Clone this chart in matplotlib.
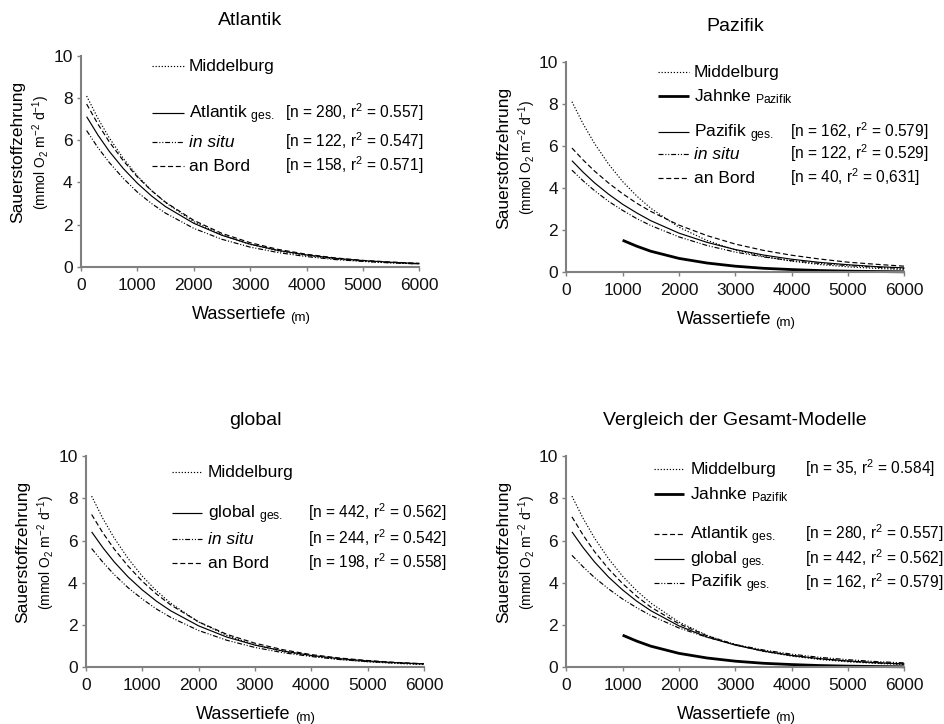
import matplotlib
matplotlib.use("Agg")
import matplotlib.pyplot as plt

plt.rcParams.update({
    "font.family": ["Liberation Sans", "DejaVu Sans"],
    "mathtext.fontset": "custom",
    "mathtext.rm": "Liberation Sans",
    "mathtext.it": "Liberation Sans:italic",
    "mathtext.bf": "Liberation Sans:bold",
    "lines.scale_dashes": False,
})

# Water depth (m) at which the model curves are sampled
depth = [100, 300, 500, 750, 1000, 1250, 1500, 2000, 2500, 3000, 3500, 4000, 4500, 5000, 5500, 6000]
depth_jahnke = [1000, 1250, 1500, 2000, 2500, 3000, 3500, 4000, 4500, 5000, 5500, 6000]

# Oxygen consumption (mmol O2 m-2 d-1)
middelburg = [8.10, 7.04, 6.12, 5.14, 4.31, 3.62, 3.04, 2.14, 1.51, 1.06, 0.75, 0.53, 0.37, 0.26, 0.185, 0.13]
jahnke_pazifik = [1.52, 1.24, 1.00, 0.66, 0.44, 0.29, 0.19, 0.13, 0.083, 0.055, 0.036, 0.024]

atlantik_ges = [7.12, 6.25, 5.48, 4.66, 3.96, 3.36, 2.85, 2.06, 1.49, 1.07, 0.77, 0.56, 0.40, 0.29, 0.21, 0.15]
atlantik_insitu = [6.46, 5.65, 4.95, 4.19, 3.54, 3.00, 2.54, 1.82, 1.30, 0.93, 0.67, 0.48, 0.34, 0.25, 0.18, 0.13]
atlantik_bord = [7.72, 6.77, 5.93, 5.03, 4.26, 3.61, 3.06, 2.20, 1.58, 1.14, 0.82, 0.59, 0.42, 0.30, 0.22, 0.16]

pazifik_ges = [5.30, 4.75, 4.25, 3.71, 3.23, 2.82, 2.45, 1.86, 1.42, 1.08, 0.82, 0.62, 0.47, 0.36, 0.27, 0.21]
pazifik_insitu = [4.85, 4.34, 3.88, 3.37, 2.94, 2.55, 2.22, 1.68, 1.27, 0.96, 0.73, 0.55, 0.42, 0.32, 0.24, 0.18]
pazifik_bord = [5.90, 5.33, 4.81, 4.24, 3.73, 3.28, 2.89, 2.24, 1.74, 1.34, 1.04, 0.81, 0.63, 0.48, 0.38, 0.29]

global_ges = [6.41, 5.66, 4.99, 4.27, 3.66, 3.13, 2.68, 1.96, 1.43, 1.05, 0.77, 0.56, 0.41, 0.30, 0.22, 0.16]
global_insitu = [5.62, 4.97, 4.39, 3.76, 3.23, 2.76, 2.37, 1.74, 1.28, 0.94, 0.69, 0.51, 0.37, 0.27, 0.20, 0.15]
global_bord = [7.23, 6.36, 5.60, 4.78, 4.07, 3.47, 2.96, 2.15, 1.56, 1.14, 0.83, 0.60, 0.44, 0.32, 0.23, 0.17]

x_ticks = [0, 1000, 2000, 3000, 4000, 5000, 6000]
y_ticks = [0, 2, 4, 6, 8, 10]

STYLES = {
    "dotted": dict(ls=(0, (0.9, 1.3)), lw=0.85),
    "solid": dict(ls="-", lw=0.85),
    "dashed": dict(ls=(0, (3.6, 2.0)), lw=0.85),
    "dashdotdot": dict(ls=(0, (3.6, 1.3, 0.8, 1.3, 0.8, 1.3)), lw=0.85),
    "thick": dict(ls="-", lw=2.0),
}

AXIS_GRAY = "#808080"
FS = 12.5
FS_STATS = 11.2

fig = plt.figure(figsize=(9.44, 7.24), dpi=100)


def panel(rect, title, series, legend, lx0, lx1, tx, sx):
    ax = fig.add_axes(rect)
    for xs, ys, st in series:
        ax.plot(xs, ys, color="k", clip_on=False, solid_capstyle="butt", **STYLES[st])

    for st, label, stats, italic, yf in legend:
        ax.plot([lx0, lx1], [yf, yf], transform=ax.transAxes, color="k",
                clip_on=False, solid_capstyle="butt", **STYLES[st])
        ax.annotate(label, xy=(tx, yf), xycoords="axes fraction",
                    xytext=(0, -3.6), textcoords="offset points",
                    ha="left", va="baseline", fontsize=FS,
                    style="italic" if italic else "normal")
        if stats:
            ax.annotate(stats, xy=(sx, yf), xycoords="axes fraction",
                        xytext=(0, -3.6), textcoords="offset points",
                        ha="left", va="baseline", fontsize=FS_STATS)

    ax.set_xlim(0, 6000)
    ax.set_ylim(0, 10)
    ax.set_xticks(x_ticks)
    ax.set_yticks(y_ticks)
    for side in ("top", "right"):
        ax.spines[side].set_visible(False)
    for side in ("left", "bottom"):
        ax.spines[side].set_color(AXIS_GRAY)
        ax.spines[side].set_linewidth(1.5)
    ax.tick_params(direction="out", length=3, width=1.0, color=AXIS_GRAY,
                   labelsize=12.5, labelcolor="#111111")
    ax.tick_params(axis="x", pad=5)
    ax.tick_params(axis="y", pad=3)

    ax.set_title(title, fontsize=14, pad=22)

    # axis titles
    ax.text(-63 / 338, 0.544, "Sauerstoffzehrung", rotation=90, ha="center",
            va="center", fontsize=FS, transform=ax.transAxes)
    ax.text(-39.5 / 338, 0.544, r"(mmol O$_2$ m$^{-2}$ d$^{-1}$)", rotation=90,
            ha="center", va="center", fontsize=10, transform=ax.transAxes)
    t = ax.annotate("Wassertiefe", xy=(0.606, 0), xycoords="axes fraction",
                    xytext=(0, -37.4), textcoords="offset points",
                    ha="right", va="baseline", fontsize=13)
    ax.annotate("(m)", xy=(1, 0), xycoords=t, xytext=(3, -0.85),
                textcoords="offset points", ha="left", va="bottom", fontsize=9.5)
    return ax


W = 338 / 944

panel([81 / 944, 1 - 266.7 / 724, 338.3 / 944, 210.7 / 724], "Atlantik",
      [(depth, middelburg, "dotted"),
       (depth, atlantik_bord, "dashed"),
       (depth, atlantik_ges, "solid"),
       (depth, atlantik_insitu, "dashdotdot")],
      [("dotted", "Middelburg", None, False, 0.952),
       ("solid", r"Atlantik $_{\mathrm{ges.}}$", r"[n = 280, r$^2$ = 0.557]", False, 0.728),
       ("dashdotdot", "in situ", r"[n = 122, r$^2$ = 0.547]", True, 0.593),
       ("dashed", "an Bord", r"[n = 158, r$^2$ = 0.571]", False, 0.479)],
      0.210, 0.3045, 0.319, 0.603)

panel([566.3 / 944, 1 - 272.3 / 724, W, 210.6 / 724], "Pazifik",
      [(depth, middelburg, "dotted"),
       (depth_jahnke, jahnke_pazifik, "thick"),
       (depth, pazifik_bord, "dashed"),
       (depth, pazifik_ges, "solid"),
       (depth, pazifik_insitu, "dashdotdot")],
      [("dotted", "Middelburg", None, False, 0.949),
       ("thick", r"Jahnke $_{\mathrm{Pazifik}}$", None, False, 0.837),
       ("solid", r"Pazifik $_{\mathrm{ges.}}$", r"[n = 162, r$^2$ = 0.579]", False, 0.666),
       ("dashdotdot", "in situ", r"[n = 122, r$^2$ = 0.529]", True, 0.562),
       ("dashed", "an Bord", r"[n = 40, r$^2$ = 0,631]", False, 0.448)],
      0.271, 0.363, 0.378, 0.662)

panel([86 / 944, 1 - 667.3 / 724, W, 211.3 / 724], "global",
      [(depth, middelburg, "dotted"),
       (depth, global_bord, "dashed"),
       (depth, global_ges, "solid"),
       (depth, global_insitu, "dashdotdot")],
      [("dotted", "Middelburg", None, False, 0.926),
       ("solid", r"global $_{\mathrm{ges.}}$", r"[n = 442, r$^2$ = 0.562]", False, 0.729),
       ("dashdotdot", "in situ", r"[n = 244, r$^2$ = 0.542]", True, 0.606),
       ("dashed", "an Bord", r"[n = 198, r$^2$ = 0.558]", False, 0.495)],
      0.2536, 0.342, 0.360, 0.658)

panel([566.3 / 944, 1 - 667.3 / 724, W, 211.3 / 724], "Vergleich der Gesamt-Modelle",
      [(depth, middelburg, "dotted"),
       (depth_jahnke, jahnke_pazifik, "thick"),
       (depth, atlantik_ges, "dashed"),
       (depth, global_ges, "solid"),
       (depth, pazifik_ges, "dashdotdot")],
      [("dotted", "Middelburg", r"[n = 35, r$^2$ = 0.584]", False, 0.940),
       ("thick", r"Jahnke $_{\mathrm{Pazifik}}$", None, False, 0.819),
       ("dashed", r"Atlantik $_{\mathrm{ges.}}$", r"[n = 280, r$^2$ = 0.557]", False, 0.631),
       ("solid", r"global $_{\mathrm{ges.}}$", r"[n = 442, r$^2$ = 0.562]", False, 0.511),
       ("dashdotdot", r"Pazifik $_{\mathrm{ges.}}$", r"[n = 162, r$^2$ = 0.579]", False, 0.400)],
      0.2586, 0.347, 0.367, 0.707)

fig.savefig("out.png", dpi=100)
